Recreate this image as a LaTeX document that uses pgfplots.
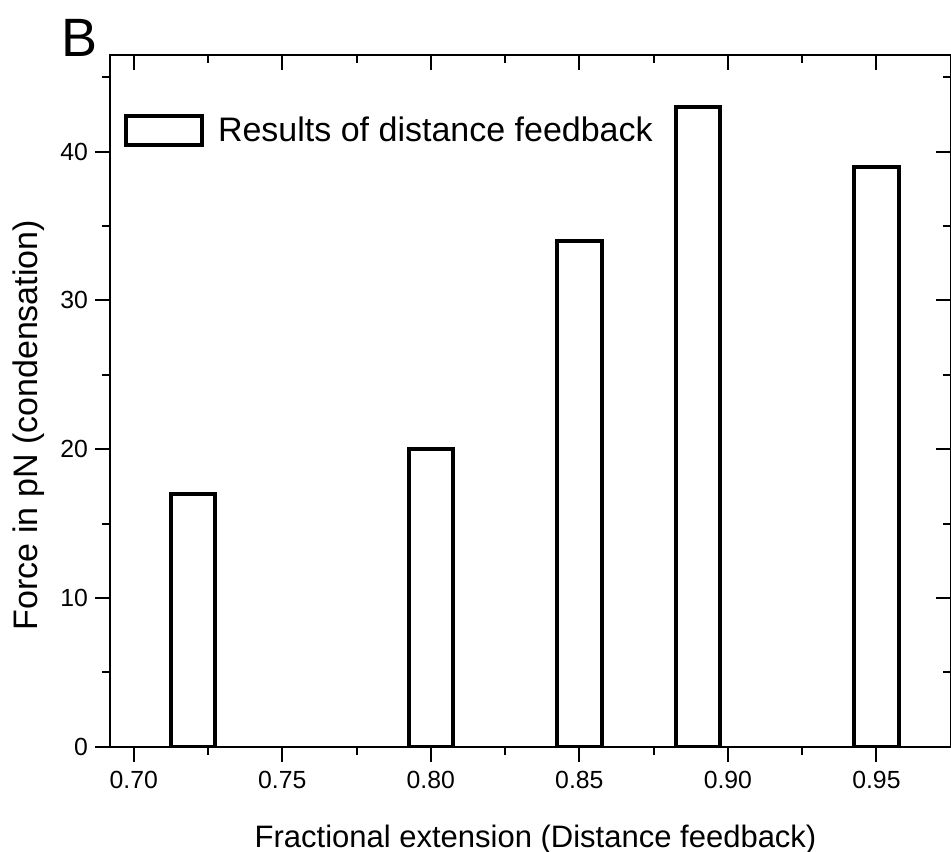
\documentclass[border=0pt]{standalone}
\usepackage{fontspec}
\setmainfont{Liberation Sans}
\usepackage{pgfplots}
\pgfplotsset{compat=1.18}
\begin{document}
\begin{tikzpicture}
\useasboundingbox (-55bp,-52.65bp) rectangle (420.5bp,373.35bp);
\pgfplotsset{
  common/.style={
    at={(0,0)}, anchor=south west,
    scale only axis, width=420.35bp, height=345.85bp,
    xmin=0.692, xmax=0.975, ymin=0, ymax=46.5,
    xtick={0.70,0.75,0.80,0.85,0.90,0.95},
    minor xtick={0.725,0.775,0.825,0.875,0.925},
    ytick={0,10,20,30,40},
    minor ytick={5,15,25,35,45},
    major tick length=7.5bp, minor tick length=4bp,
    axis line style={line width=1.2bp},
    tick style={line width=1bp, black},
    /pgf/number format/assume math mode=true,
  }
}
\begin{axis}[common,
    tick align=outside, xtick pos=bottom, ytick pos=left,
    xticklabels={0.70,0.75,0.80,0.85,0.90,0.95},
    tick label style={font=\fontsize{12.4bp}{15bp}\selectfont},
    xticklabel style={yshift=-1bp},
    xlabel={Fractional extension (Distance feedback)},
    xlabel style={font=\fontsize{15.5bp}{18bp}\selectfont, at={(axis description cs:0.5,0)}, anchor=base, xshift=2.6bp, yshift=-50.15bp},
    ylabel={Force in pN (condensation)},
    ylabel style={font=\fontsize{17bp}{20bp}\selectfont, at={(axis description cs:-0.0868,0.4651)}, anchor=base},
    ybar, bar width=0.015,
    legend style={at={(axis description cs:0.0167,0.8909)}, anchor=west, draw=none, fill=none, inner sep=0pt,
      nodes={inner sep=0pt}, font=\fontsize{17bp}{20bp}\selectfont,
      /tikz/every odd column/.append style={column sep=6.8bp}},
    legend image code/.code={\draw[line width=2bp, fill=white] (0bp,-7.25bp) rectangle (38bp,7.25bp);},
]
\addplot[ybar, fill=white, draw=black, line width=2bp] coordinates {
  (0.72,17) (0.80,20) (0.85,34) (0.89,43) (0.95,39)
};
\addlegendentry{Results of distance feedback}
\end{axis}
\begin{axis}[common,
    tick align=inside, xtick pos=top, ytick pos=right,
    xticklabels={}, yticklabels={},
]
\end{axis}
\node[anchor=base west, inner sep=0pt, font=\fontsize{27bp}{30bp}\selectfont] at (-24.5bp,344.85bp) {B};
\end{tikzpicture}
\end{document}
